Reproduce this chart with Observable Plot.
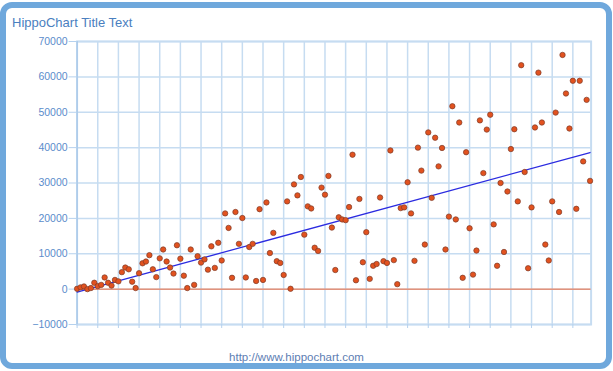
<!DOCTYPE html>
<html>
<head>
<meta charset="utf-8">
<script src="https://cdn.jsdelivr.net/npm/d3@7"></script>
<script src="https://cdn.jsdelivr.net/npm/@observablehq/plot@0.6"></script>
<style>
  html, body { margin: 0; padding: 0; background: #fff; }
  #wrap { position: relative; width: 613px; height: 371px; overflow: hidden; font-family: "Liberation Sans", Arial, sans-serif; }
  #box { position: absolute; left: 0; top: 2px; width: 612px; height: 367px; box-sizing: border-box; border: 6px solid #6fa8dc; border-radius: 12px; }
  #title { position: absolute; left: 12px; top: 15.5px; font-size: 13px; line-height: 13px; color: #4a80c0; white-space: nowrap; }
  #footer { position: absolute; left: 0; width: 593px; top: 352px; font-size: 11.5px; line-height: 11.5px; color: #5d7db3; text-align: center; white-space: nowrap; }
  #chart { position: absolute; left: 0; top: 0; }
</style>
</head>
<body>
<div id="wrap">
  <div id="box"></div>
  <div id="title">HippoChart Title Text</div>
  <div id="chart"></div>
  <div id="footer">http://www.hippochart.com</div>
</div>
<script>
// Series values (y), one per point, x = point index 0..149
const values = [
  100, 500, 750, 0, 300, 1800, 850, 1200, 3300, 1800, 1000, 2600, 2200, 4800, 6100, 5600, 2100, 300, 4500, 7300,
  7800, 9600, 5600, 3400, 8700, 11200, 7800, 6100, 4400, 12400, 8600, 3800, 300, 11200, 1200, 9300, 7500,
  8400, 5500, 12100, 6000, 13100, 8100, 21400, 17300, 3200, 21800, 12800, 20100, 3300, 11900, 12800, 2300, 22600,
  2600, 24500, 10200, 15900, 7900, 7400, 4000, 24800, 100, 29600, 26500, 31700, 15400, 23400, 22800, 11700, 10800,
  28700, 26700, 32000, 17400,
  5400, 20300, 19700, 19500, 23200, 38000, 2500, 25500, 7600, 16100, 2900, 6600, 7100, 25900, 7900, 7400, 39200,
  8200, 1400, 22900, 23100, 30200, 21400, 8000, 40000, 33500, 12600, 44300, 25800, 42800, 34700, 39900, 11200,
  20500, 51700, 19700, 47100, 3200,
  38700, 17200, 4100, 10900, 47700, 32800, 45100, 49300, 18300, 6600, 30000, 10500, 27600, 39600, 45200, 24800,
  63300, 33100, 5900, 23100, 45700, 61200, 47100, 12600, 8100, 24800, 49900, 21800, 66200, 55300, 45400, 58900,
  22700, 58900, 36100, 53500, 30600
];
// Y tick labels
const yTicks = [-10000, 0, 10000, 20000, 30000, 40000, 50000, 60000, 70000];
// Vertical grid positions (every 6 points)
const gridX = [0, 6, 12, 18, 24, 30, 36, 42, 48, 54, 60, 66, 72, 78, 84, 90, 96, 102, 108, 114, 120, 126, 132, 138, 144];

const data = values.map((v, i) => ({x: i, y: v}));

const gridColor = "#c6dcf1";
const labelColor = "#5b8ccb";

const chart = Plot.plot({
  width: 613,
  height: 371,
  marginLeft: 76.6,
  marginRight: 22.4,
  marginTop: 41,
  marginBottom: 47,
  style: {background: "transparent", fontFamily: "'Liberation Sans', Arial, sans-serif", fontSize: "10.5px"},
  x: {domain: [0, 149.3], axis: null},
  y: {domain: [-10000, 70000], axis: null},
  marks: [
    Plot.gridX(gridX, {stroke: gridColor, strokeOpacity: 1, strokeWidth: 1.5}),
    Plot.gridY(yTicks, {stroke: gridColor, strokeOpacity: 1, strokeWidth: 1.5}),
    Plot.frame({stroke: gridColor, strokeWidth: 2}),
    Plot.ruleX([0], {stroke: "#9fc2e6", strokeWidth: 1}),
    Plot.axisY(yTicks, {
      label: null, tickSize: 8, tickPadding: 1.5, stroke: "#b5d1ee", fill: labelColor,
      tickFormat: d3.format("d"), fontSize: 10.5
    }),
    Plot.axisX(gridX, {
      label: null, anchor: "bottom", tickSize: 4, tickPadding: 0, stroke: "#b5d1ee", tickFormat: () => ""
    }),
    Plot.ruleY([0], {stroke: "#f0683a", strokeWidth: 1}),
    Plot.linearRegressionY(data, {x: "x", y: "y", ci: 0, stroke: "#2b2be0", strokeWidth: 1.3}),
    Plot.dot(data, {x: "x", y: "y", r: 2.7, fill: "#e2521f", stroke: "#7d3b28", strokeWidth: 0.7})
  ]
});
document.getElementById("chart").appendChild(chart);
</script>
</body>
</html>
